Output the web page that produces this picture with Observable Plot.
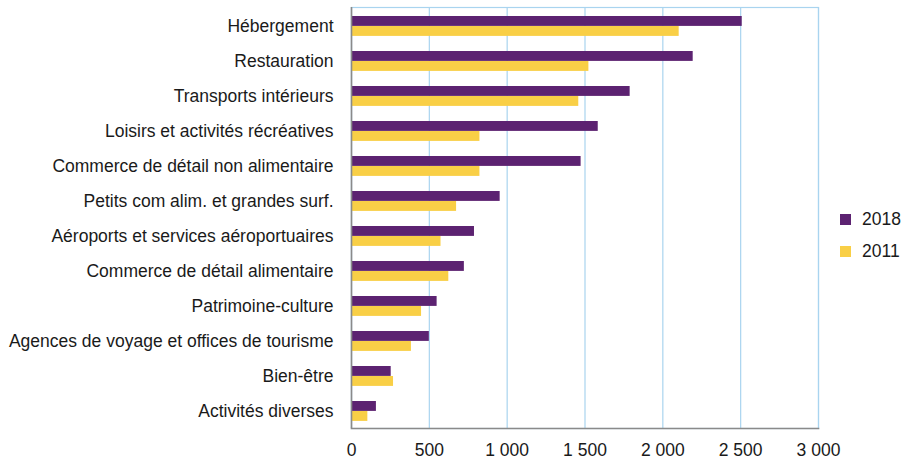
<!DOCTYPE html>
<html>
<head>
<meta charset="utf-8">
<script src="https://cdn.jsdelivr.net/npm/d3@7"></script>
<script src="https://cdn.jsdelivr.net/npm/@observablehq/plot@0.6"></script>
<style>
  html, body { margin: 0; padding: 0; background: #fff; }
  #wrap { position: relative; width: 916px; height: 459px; font-family: "Liberation Sans", Arial, sans-serif; color: #1a1a1a; }
  #legend { position: absolute; left: 840px; top: 203px; font-size: 17.5px; }
  .item { display: flex; align-items: center; height: 32px; }
  .sw { width: 11px; height: 11px; margin-right: 11px; }
</style>
</head>
<body>
<div id="wrap"></div>
<script>
const categories = [
  "Hébergement",
  "Restauration",
  "Transports intérieurs",
  "Loisirs et activités récréatives",
  "Commerce de détail non alimentaire",
  "Petits com alim. et grandes surf.",
  "Aéroports et services aéroportuaires",
  "Commerce de détail alimentaire",
  "Patrimoine-culture",
  "Agences de voyage et offices de tourisme",
  "Bien-être",
  "Activités diverses"
];
const series = ["2018", "2011"];
const values2018 = [2510, 2195, 1790, 1585, 1475, 955, 790, 725, 550, 500, 255, 160];
const values2011 = [2105, 1525, 1460, 825, 825, 675, 575, 625, 450, 385, 270, 105];
const xTicks = [0, 500, 1000, 1500, 2000, 2500, 3000];
const xTickLabels = ["0", "500", "1 000", "1 500", "2 000", "2 500", "3 000"];
const colors = ["#5c2271", "#f9cf46"];

const data2018 = categories.map((c, i) => ({category: c, series: series[0], value: values2018[i]}));
const data2011 = categories.map((c, i) => ({category: c, series: series[1], value: values2011[i]}));

const grid = "#a9d4ef";
const axisGrey = "#8a8a8a";

const chart = Plot.plot({
  width: 916,
  height: 459,
  marginLeft: 351,
  marginRight: 98,
  marginTop: 7,
  marginBottom: 31,
  style: {fontFamily: "'Liberation Sans', Arial, sans-serif", fontSize: "17.5px", color: "#1a1a1a", background: "#fff"},
  x: {domain: [0, 3000], label: null},
  y: {domain: categories, padding: 0, label: null},
  marks: [
    Plot.gridX(xTicks, {stroke: grid, strokeOpacity: 1, strokeWidth: 1.2}),
    Plot.frame({stroke: grid, strokeWidth: 1.2}),
    Plot.barX(data2018, {x: "value", y: "category", fill: colors[0], insetTop: 8, insetBottom: 17.1}),
    Plot.barX(data2011, {x: "value", y: "category", fill: colors[1], insetTop: 18, insetBottom: 7.1}),
    Plot.ruleX([0], {stroke: axisGrey, strokeWidth: 1.6}),
    Plot.frame({anchor: "bottom", stroke: axisGrey, strokeWidth: 1.6}),
    Plot.axisY({tickSize: 0, tickPadding: 18, label: null}),
    Plot.axisX(xTicks, {tickSize: 0, tickPadding: 15, label: null, tickFormat: (d) => xTickLabels[xTicks.indexOf(d)]})
  ]
});

const wrap = document.getElementById("wrap");
wrap.appendChild(chart);

const legend = document.createElement("div");
legend.id = "legend";
series.forEach((s, i) => {
  const item = document.createElement("div");
  item.className = "item";
  const sw = document.createElement("span");
  sw.className = "sw";
  sw.style.background = colors[i];
  const t = document.createElement("span");
  t.textContent = s;
  item.appendChild(sw);
  item.appendChild(t);
  legend.appendChild(item);
});
wrap.appendChild(legend);
</script>
</body>
</html>
